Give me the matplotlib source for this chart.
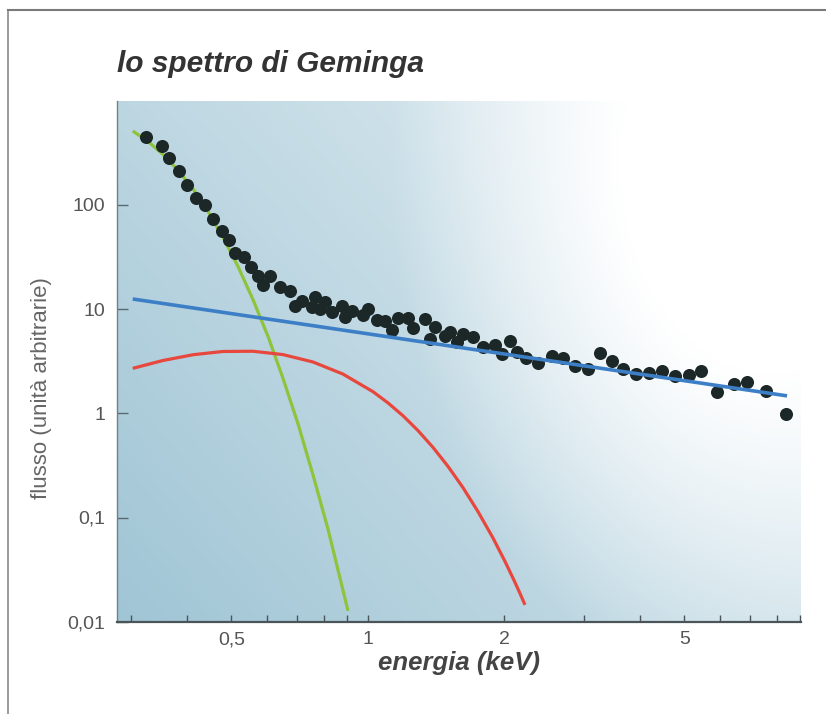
import numpy as np
import matplotlib
matplotlib.use('Agg')
from matplotlib import pyplot as plt
from matplotlib.lines import Line2D
from matplotlib.ticker import FixedLocator, FixedFormatter, NullLocator

plt.rcParams['font.family'] = ['Liberation Sans', 'DejaVu Sans']

# measured spectrum (keV, arbitrary flux)
energy = [0.324, 0.351, 0.364, 0.383, 0.400, 0.418, 0.437, 0.456, 0.478, 0.495,
          0.509, 0.533, 0.554, 0.574, 0.588, 0.610, 0.640, 0.674, 0.691, 0.715,
          0.752, 0.765, 0.785, 0.805, 0.833, 0.876, 0.891, 0.922, 0.978, 1.003,
          1.048, 1.092, 1.134, 1.168, 1.229, 1.261, 1.338, 1.408, 1.373, 1.481,
          1.519, 1.572, 1.626, 1.708, 1.800, 1.910, 2.061, 1.979, 2.133, 2.236,
          2.380, 2.548, 2.703, 2.869, 3.069, 3.257, 3.457, 3.666, 3.911, 4.178,
          4.470, 4.769, 5.121, 5.443, 5.893, 6.437, 6.887, 7.570, 8.370]
flux = [445, 365, 280, 213, 155, 117, 100, 73, 56.5, 46.4,
        34.5, 31.4, 25.2, 20.9, 17.2, 20.6, 16.2, 14.8, 10.8, 11.9,
        10.4, 13.0, 10.0, 11.6, 9.31, 10.8, 8.34, 9.66, 8.78, 10.0,
        7.91, 7.74, 6.30, 8.16, 8.27, 6.63, 8.04, 6.78, 5.20, 5.58,
        5.99, 4.80, 5.77, 5.36, 4.30, 4.52, 4.98, 3.71, 3.85, 3.36,
        3.02, 3.57, 3.43, 2.86, 2.69, 3.76, 3.16, 2.66, 2.38, 2.41,
        2.52, 2.29, 2.31, 2.57, 1.59, 1.91, 1.98, 1.62, 0.985]

# model components
green_e = [0.303, 0.327, 0.353, 0.381, 0.412, 0.444, 0.479, 0.517, 0.558,
           0.603, 0.650, 0.702, 0.757, 0.818, 0.905]
green_f = [512, 408, 306, 216, 142, 86.9, 49.2, 25.8, 12.4,
           5.44, 2.18, 0.791, 0.259, 0.0766, 0.0127]

red_e = [0.303, 0.353, 0.412, 0.479, 0.558, 0.650, 0.757, 0.882, 1.028, 1.109,
         1.197, 1.291, 1.394, 1.504, 1.623, 1.752, 1.891, 2.010, 2.103, 2.169, 2.225]
red_f = [2.70, 3.21, 3.65, 3.92, 3.94, 3.66, 3.11, 2.38, 1.61, 1.258,
         0.947, 0.684, 0.471, 0.310, 0.194, 0.114, 0.0636, 0.0379, 0.0251, 0.0187, 0.0145]

blue_e = [0.303, 8.43]
blue_f = [12.5, 1.47]

xmajor = [0.5, 1, 2, 5]
xmajor_lab = ['0,5', '1', '2', '5']
xminor = [0.3, 0.4, 0.6, 0.7, 0.8, 0.9, 3, 4, 6, 7, 8, 9]
yticks = [0.01, 0.1, 1, 10, 100]
ytick_lab = ['0,01', '0,1', '1', '10', '100']

fig = plt.figure(figsize=(8.26, 7.14), dpi=100)
fig.patch.set_facecolor('white')

# frame round the figure
fig.add_artist(Line2D([8/826, 8/826], [0, 1 - 10/714], transform=fig.transFigure, color='#8a8a8a', lw=1.2))
fig.add_artist(Line2D([8/826, 1], [1 - 10/714, 1 - 10/714], transform=fig.transFigure, color='#7a7a7a', lw=1.5))

ax = fig.add_axes([117/826, 1 - 621.7/714, 684/826, 521/714])
ax.set_xscale('log')
ax.set_yscale('log')
ax.set_xlim(0.2797, 9.05)
ax.set_ylim(0.01, 1000)

# background: steel blue, lighter to the right, white patch in the upper right
gx, gy = np.meshgrid(np.linspace(0, 1, 400), np.linspace(0, 1, 400))
w1 = np.clip(0.45 * gx + 0.3 * gy, 0, 1)
d = np.sqrt(((gx - 0.955) * 684) ** 2 + ((gy - 0.887) * 521 * 0.7) ** 2)
w2 = np.clip((380 - d) / 230, 0, 1)
w = 1 - (1 - w1) * (1 - w2)
base = np.array([160, 197, 213]) / 255.0
img = base[None, None, :] * (1 - w[..., None]) + w[..., None]
ax.imshow(img, extent=[0, 1, 0, 1], transform=ax.transAxes, origin='lower',
          aspect='auto', zorder=0, interpolation='bilinear')

ax.plot(green_e, green_f, color='#8dc43c', lw=2.3, zorder=2, solid_capstyle='butt',
        solid_joinstyle='round')
ax.plot(red_e, red_f, color='#e8473d', lw=2.3, zorder=2, solid_capstyle='butt',
        solid_joinstyle='round')
ax.plot(energy, flux, 'o', color='#1c2727', markersize=9.4, markeredgewidth=0, zorder=3)
ax.plot(blue_e, blue_f, color='#3d7fc6', lw=2.6, zorder=4, solid_capstyle='butt')

for s in ['top', 'right']:
    ax.spines[s].set_visible(False)
ax.spines['left'].set_color('#6f8087')
ax.spines['left'].set_linewidth(1.0)
ax.spines['bottom'].set_color('#4a5459')
ax.spines['bottom'].set_linewidth(1.6)

ax.xaxis.set_major_locator(FixedLocator(xmajor))
ax.xaxis.set_major_formatter(FixedFormatter(xmajor_lab))
ax.xaxis.set_minor_locator(FixedLocator(xminor))
ax.xaxis.set_minor_formatter(plt.NullFormatter())
ax.yaxis.set_major_locator(FixedLocator(yticks))
ax.yaxis.set_major_formatter(FixedFormatter(ytick_lab))
ax.yaxis.set_minor_locator(NullLocator())
ax.tick_params(axis='x', which='both', direction='in', length=5, width=1, color='#4a5459',
               labelsize=14, labelcolor='#555555', pad=7)
ax.tick_params(axis='y', which='major', direction='in', length=8, width=1, color='#5a6a70',
               labelsize=14, labelcolor='#555555', pad=8.5)

ax.set_xlabel('energia (keV)', fontsize=18.5, fontweight='bold', fontstyle='italic',
              color='#444444', labelpad=2)
ax.set_ylabel('flusso (unità arbitrarie)', fontsize=16, color='#666666')
ax.yaxis.set_label_coords(-0.095, 0.449)

fig.text(117/826, 1 - 72/714, 'lo spettro di Geminga', fontsize=21.5, fontweight='bold',
         fontstyle='italic', color='#333333', ha='left', va='baseline')

fig.savefig('out.png', dpi=100)
